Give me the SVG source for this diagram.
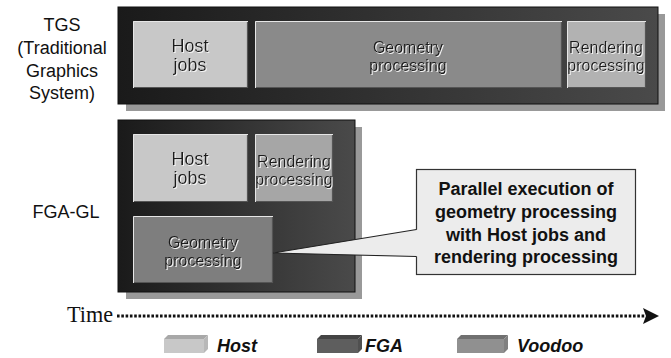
<svg xmlns="http://www.w3.org/2000/svg" width="671" height="358" viewBox="0 0 671 358">
<defs>
<linearGradient id="dark" x1="0" y1="0" x2="1" y2="0">
<stop offset="0" stop-color="#1a1a1a"/>
<stop offset="1" stop-color="#4a4a4a"/>
</linearGradient>
<filter id="emb" x="-10%" y="-20%" width="120%" height="140%">
<feOffset in="SourceAlpha" dx="1" dy="1" result="o"/>
<feFlood flood-color="#f4f4f4"/>
<feComposite in2="o" operator="in" result="s"/>
<feMerge><feMergeNode in="s"/><feMergeNode in="SourceGraphic"/></feMerge>
</filter>
</defs>
<style>
.lbl{font-family:"Liberation Sans",Arial,sans-serif;font-size:18px;fill:#111;text-anchor:middle}
.in{font-family:"Liberation Sans",Arial,sans-serif;fill:#1a1a1a;text-anchor:middle}
.big{font-size:18px}
.sm{font-size:16px}
.shadow{fill:#999}
.outer{fill:url(#dark);stroke:#111;stroke-width:1}
.hi{fill:none;stroke:#e6e6e6;stroke-width:1}
.lo{fill:none;stroke:#555;stroke-width:1.2}
.host{fill:#c8c8c8}
.geo{fill:#8a8a8a}
.ren{fill:#b2b2b2}
.call{font-family:"Liberation Sans",Arial,sans-serif;font-size:18px;font-weight:bold;fill:#111;text-anchor:middle}
.leg{font-family:"Liberation Sans",Arial,sans-serif;font-size:18px;font-weight:bold;font-style:italic;fill:#111}
</style>

<g id="tgs-label">
<text class="lbl" x="62" y="31">TGS</text>
<text class="lbl" x="62" y="54">(Traditional</text>
<text class="lbl" x="62" y="77">Graphics</text>
<text class="lbl" x="62" y="99">System)</text>
</g>

<g id="tgs">
<rect class="shadow" x="126" y="14" width="539" height="97"/>
<rect class="outer" x="118" y="7" width="540" height="97"/>
</g>

<g id="tgs-host">
<rect class="host" x="133" y="21" width="115" height="67" rx="1"/>
<polyline class="hi" points="133.5,88 133.5,21.5 248,21.5"/>
<polyline class="lo" points="134,87.5 247.5,87.5 247.5,22"/>
<text class="in big" x="190" y="52" filter="url(#emb)">Host</text>
<text class="in big" x="190" y="71" filter="url(#emb)">jobs</text>
</g>

<g id="tgs-geometry">
<rect class="geo" x="255" y="21" width="307" height="67" rx="1"/>
<polyline class="hi" points="255.5,88 255.5,21.5 562,21.5"/>
<polyline class="lo" points="256,87.5 561.5,87.5 561.5,22"/>
<text class="in sm" x="408" y="53" filter="url(#emb)">Geometry</text>
<text class="in sm" x="408" y="71" filter="url(#emb)">processing</text>
</g>

<g id="tgs-rendering">
<rect class="ren" x="567" y="21" width="79" height="67" rx="1"/>
<polyline class="hi" points="567.5,88 567.5,21.5 646,21.5"/>
<polyline class="lo" points="568,87.5 645.5,87.5 645.5,22"/>
<text class="in sm" x="606" y="53" filter="url(#emb)">Rendering</text>
<text class="in sm" x="606" y="71" filter="url(#emb)">processing</text>
</g>

<g id="fga-label">
<text class="lbl" x="66" y="218">FGA-GL</text>
</g>

<g id="fga">
<rect class="shadow" x="126" y="127" width="236" height="172"/>
<rect class="outer" x="118" y="120" width="237" height="172"/>
</g>

<g id="fga-host">
<rect class="host" x="133" y="134" width="115" height="68" rx="1"/>
<polyline class="hi" points="133.5,202 133.5,134.5 248,134.5"/>
<polyline class="lo" points="134,201.5 247.5,201.5 247.5,135"/>
<text class="in big" x="190" y="165" filter="url(#emb)">Host</text>
<text class="in big" x="190" y="184" filter="url(#emb)">jobs</text>
</g>

<g id="fga-rendering">
<rect class="ren" x="255" y="134" width="78" height="68" rx="1" style="fill:#a6a6a6"/>
<polyline class="hi" points="255.5,202 255.5,134.5 333,134.5"/>
<polyline class="lo" points="256,201.5 332.5,201.5 332.5,135"/>
<text class="in sm" x="294" y="167" filter="url(#emb)">Rendering</text>
<text class="in sm" x="294" y="185" filter="url(#emb)">processing</text>
</g>

<g id="fga-geometry">
<rect class="geo" x="133" y="216" width="140" height="67" rx="1" style="fill:#7e7e7e"/>
<polyline class="hi" points="133.5,283 133.5,216.5 273,216.5"/>
<polyline class="lo" points="134,282.5 272.5,282.5 272.5,217"/>
<text class="in sm" x="203" y="248" filter="url(#emb)">Geometry</text>
<text class="in sm" x="203" y="266" filter="url(#emb)">processing</text>
</g>

<g id="callout">
<rect x="416.5" y="169.5" width="219" height="105" fill="#ececec" stroke="#333" stroke-width="1.2"/>
<polygon points="418,229.5 273,253 418,256.5" fill="#ececec"/>
<text class="call" x="526" y="195">Parallel execution of</text>
<text class="call" x="526" y="218">geometry processing</text>
<text class="call" x="526" y="241">with Host jobs and</text>
<text class="call" x="526" y="263">rendering processing</text>
</g>

<g id="connectors">
<polyline points="416.5,229.5 273,253 416.5,256.5" fill="none" stroke="#222" stroke-width="1.2"/>
<line x1="117" y1="316" x2="645" y2="316" stroke="#111" stroke-width="3" stroke-dasharray="2.6 1.7"/>
<path d="M643,308 L659,316 L643,324 L646,316 Z" fill="#111"/>
</g>

<g id="time-label">
<text x="67" y="322" font-family="Liberation Serif,'Times New Roman',serif" font-size="23" fill="#111" textLength="46" lengthAdjust="spacingAndGlyphs">Time</text>
</g>

<g id="legend">
<g id="legend-host">
<polygon points="164,339 168,335 208,335 204,339" fill="#a8a8a8"/>
<polygon points="204,339 208,335 208,349 204,353" fill="#b8b8b8"/>
<rect x="164" y="339" width="40" height="14" fill="#c8c8c8"/>
<text class="leg" x="217" y="352">Host</text>
</g>
<g id="legend-fga">
<polygon points="317,339 321,335 362,335 358,339" fill="#444"/>
<polygon points="358,339 362,335 362,349 358,353" fill="#505050"/>
<rect x="317" y="339" width="41" height="14" fill="#5e5e5e"/>
<text class="leg" x="365" y="352">FGA</text>
</g>
<g id="legend-voodoo">
<polygon points="457,339 461,335 508,335 504,339" fill="#707070"/>
<polygon points="504,339 508,335 508,349 504,353" fill="#808080"/>
<rect x="457" y="339" width="47" height="14" fill="#909090"/>
<text class="leg" x="517" y="352">Voodoo</text>
</g>
</g>
</svg>
